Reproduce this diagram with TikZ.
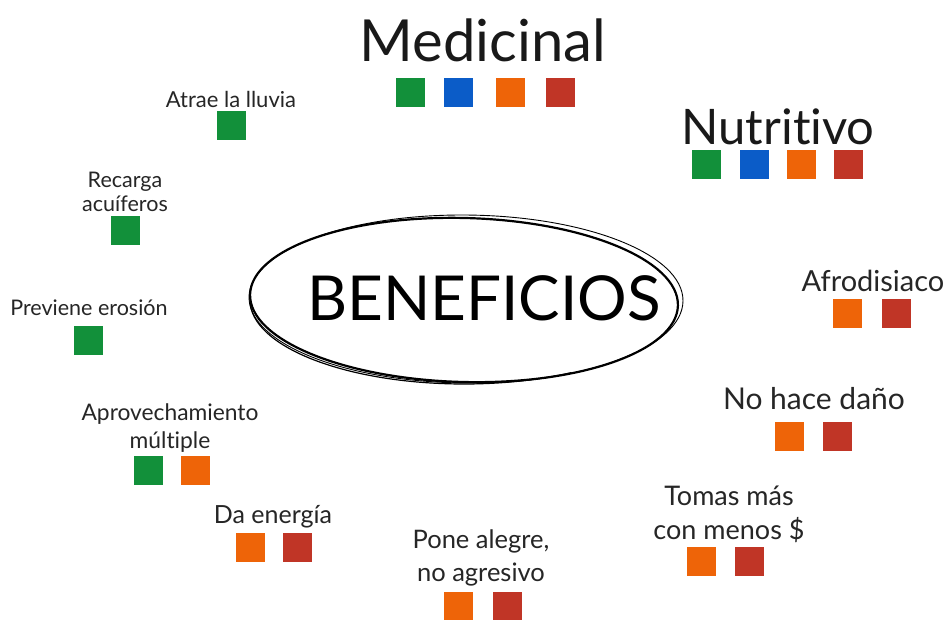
\documentclass[tikz,border=0pt]{standalone}
\usepackage{fontspec}
\setmainfont{Lato}[Ligatures=NoCommon]
\definecolor{cgreen}{HTML}{12903A}
\definecolor{cblue}{HTML}{0B5CC8}
\definecolor{corange}{HTML}{EE6408}
\definecolor{cred}{HTML}{C03526}
\newcommand{\fsz}[2]{\fontsize{#1}{#2}\selectfont}
\begin{document}
\begin{tikzpicture}[x=1pt,y=-1pt,
  sq/.style={draw=none,fill=#1,minimum size=29pt,inner sep=0pt,outer sep=0pt},
  lbl/.style={inner sep=0pt,align=center,text=black!85},
  big/.style={inner sep=0pt,text=black!90},
]
\useasboundingbox[fill=white] (0,0) rectangle (948,620);

% central ellipse (hand drawn look)
\draw[line width=2.2pt,rotate around={-1.5:(464,300)}] (464,300) ellipse [x radius=214, y radius=82];
\draw[line width=0.9pt,rotate around={-0.5:(464,300)}] (466,299) ellipse [x radius=217, y radius=84];
\draw[line width=1.2pt] (250,300) arc[start angle=180,end angle=300,x radius=214,y radius=-84];
\node[inner sep=0pt,font=\fsz{62}{70}] (ben) at (484,298) {BENEFICIOS};

% Medicinal
\node[big,font=\fsz{58}{64}] (med) at (483,40) {Medicinal};
\node[sq=cgreen]  (m1) at (410.5,93) {};
\node[sq=cblue]   (m2) at (458,93) {};
\node[sq=corange] (m3) at (510,93) {};
\node[sq=cred]    (m4) at (560.5,93) {};

% Nutritivo
\node[big,font=\fsz{49}{56}] (nut) at (778,127) {Nutritivo};
\node[sq=cgreen]  (n1) at (706.5,165) {};
\node[sq=cblue]   (n2) at (754,165) {};
\node[sq=corange] (n3) at (801.5,165) {};
\node[sq=cred]    (n4) at (848.5,165) {};

% Afrodisiaco
\node[lbl,font=\fsz{29}{34}] (afr) at (873,281) {Afrodisiaco};
\node[sq=corange] (a1) at (847.5,313.5) {};
\node[sq=cred]    (a2) at (896.5,313.5) {};

% No hace dano
\node[lbl,font=\fsz{30}{34}] (nhd) at (814,399) {No hace daño};
\node[sq=corange] (d1) at (789.5,436.5) {};
\node[sq=cred]    (d2) at (837.5,436.5) {};

% Tomas mas
\node[lbl,font=\fsz{27}{34}] (tom) at (729,514) {Tomas más\\con menos \$};
\node[sq=corange] (t1) at (701.5,561.5) {};
\node[sq=cred]    (t2) at (749,561.5) {};

% Pone alegre
\node[lbl,font=\fsz{25.5}{33}] (pon) at (481,558) {Pone alegre,\\no agresivo};
\node[sq=corange] (p1) at (458.5,606.5) {};
\node[sq=cred]    (p2) at (507,606.5) {};

% Da energia
\node[lbl,font=\fsz{25}{30}] (dae) at (273,517) {Da energía};
\node[sq=corange] (e1) at (250,547) {};
\node[sq=cred]    (e2) at (297.5,547) {};

% Aprovechamiento multiple
\node[lbl,font=\fsz{22.8}{28.5}] (apr) at (170,428) {Aprovechamiento\\múltiple};
\node[sq=cgreen]  (ap1) at (148.5,470) {};
\node[sq=corange] (ap2) at (195,470) {};

% Previene erosion
\node[lbl,font=\fsz{21.5}{26}] (pre) at (89,308) {Previene erosión};
\node[sq=cgreen] (pe1) at (88.5,340.5) {};

% Recarga acuiferos
\node[lbl,font=\fsz{21.5}{24}] (rec) at (125,192) {Recarga\\acuíferos};
\node[sq=cgreen] (ra1) at (125.5,230.5) {};

% Atrae la lluvia
\node[lbl,font=\fsz{22}{26}] (atr) at (231,99) {Atrae la lluvia};
\node[sq=cgreen] (al1) at (231.5,125.5) {};
\end{tikzpicture}
\end{document}
